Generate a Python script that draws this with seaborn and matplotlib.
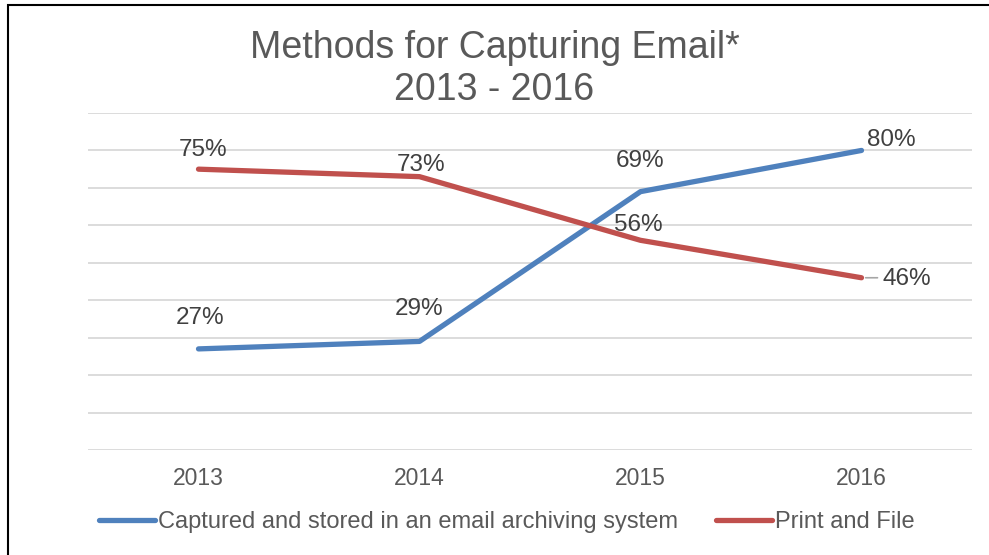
import matplotlib
matplotlib.use("Agg")
import matplotlib.pyplot as plt
import matplotlib.patches as patches
import pandas as pd
import seaborn as sns

# ── data ──────────────────────────────────────────────
years = ["2013", "2014", "2015", "2016"]
captured = [27, 29, 69, 80]
print_file = [75, 73, 56, 46]
series_names = ["Captured and stored in an email archiving system", "Print and File"]

# label offsets in pixels (dx, dy, ha)
cap_offsets = [(2, 31, "center"), (0, 32, "center"), (0, 31, "center"), (6, 10, "left")]
prn_offsets = [(5, 19, "center"), (2, 12, "center"), (-2, 15, "center"), (21, -1, "left")]

df = pd.DataFrame({
    "year": years * 2,
    "value": captured + print_file,
    "series": [series_names[0]] * 4 + [series_names[1]] * 4,
})

sns.set_style("white")
plt.rcParams["font.family"] = ["Liberation Sans", "DejaVu Sans"]

fig = plt.figure(figsize=(9.89, 5.55), dpi=100)
ax = fig.add_axes([88 / 989, (555 - 450) / 555, (972 - 88) / 989, (450 - 113) / 555])

palette = {series_names[0]: "#4F81BD", series_names[1]: "#C0504D"}
sns.lineplot(data=df, x="year", y="value", hue="series", palette=palette,
             linewidth=3.8, ax=ax, sort=False, legend=True,
             solid_capstyle="round")

ax.set_xlim(-0.5, 3.5)
ax.set_ylim(0, 90)
ax.set_yticks(range(0, 91, 10))
ax.yaxis.grid(True, color="#D9D9D9", linewidth=1.3)
ax.set_axisbelow(True)
ax.tick_params(axis="y", left=False, labelleft=False)
ax.tick_params(axis="x", bottom=False, labelsize=16.5, labelcolor="#595959", pad=9)
for s in ax.spines.values():
    s.set_visible(False)
ax.set_xlabel("")
ax.set_ylabel("")

for vals, offs in ((captured, cap_offsets), (print_file, prn_offsets)):
    for i, (v, (dx, dy, ha)) in enumerate(zip(vals, offs)):
        ax.annotate(f"{v}%", (i, v), xytext=(dx, dy), textcoords="offset pixels",
                    ha=ha, va="center", fontsize=17.5, color="#404040")

# small leader line for 46%
ax.annotate("", (3, print_file[3]), xytext=(16, 0), textcoords="offset pixels",
            arrowprops=dict(arrowstyle="-", color="#A6A6A6", lw=1.2,
                            shrinkA=0, shrinkB=3))

handles, labels = ax.get_legend_handles_labels()
ax.get_legend().remove()
leg = fig.legend(handles, labels, loc="center",
                 bbox_to_anchor=(0.5 + 12 / 989, 33 / 555),
                 ncol=2, frameon=False, fontsize=17, handlelength=2.4,
                 handletextpad=0.1, columnspacing=1.6)
for t in leg.get_texts():
    t.set_color("#595959")

fig.text(0.5, (555 - 69) / 555, "Methods for Capturing Email*\n2013 - 2016",
         ha="center", va="center", fontsize=27, color="#595959", linespacing=1.2)

fig.patches.append(patches.Rectangle((8 / 989, -0.1), 1.2, (550 / 555) + 0.1,
                                     transform=fig.transFigure, fill=False,
                                     edgecolor="black", linewidth=1.5))

fig.savefig("out.png", dpi=100)
